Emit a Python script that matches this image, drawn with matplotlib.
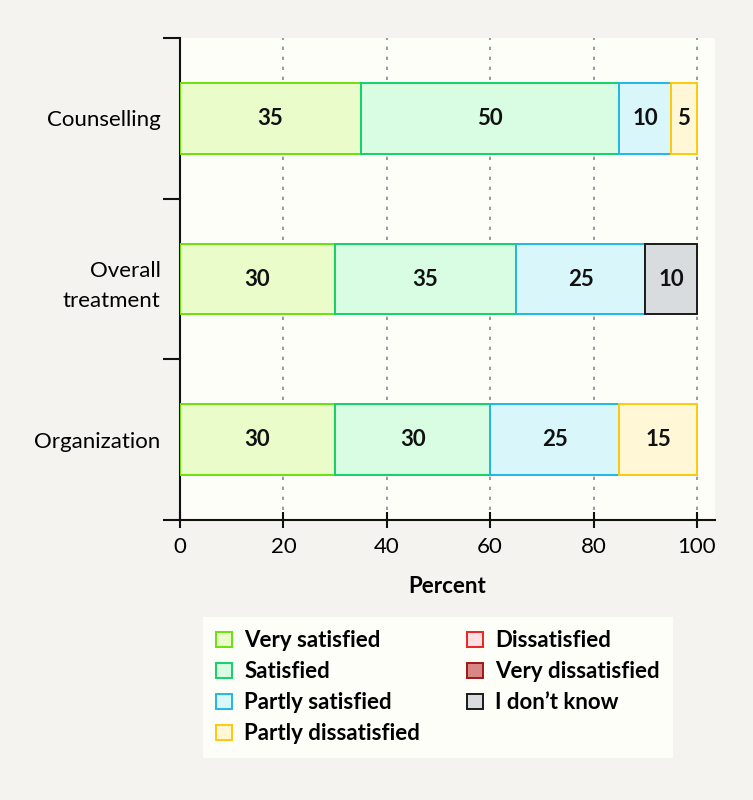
import matplotlib
matplotlib.use("Agg")
import matplotlib.pyplot as plt
from matplotlib.patches import Patch
import numpy as np

plt.rcParams['font.family'] = ['Lato', 'DejaVu Sans']

categories = ["Organization", "Overall\ntreatment", "Counselling"]
series_names = ["Very satisfied", "Satisfied", "Partly satisfied", "Partly dissatisfied",
                "Dissatisfied", "Very dissatisfied", "I don\u2019t know"]
very_satisfied = [30, 30, 35]
satisfied = [30, 35, 50]
partly_satisfied = [25, 25, 10]
partly_dissatisfied = [15, 0, 5]
dissatisfied = [0, 0, 0]
very_dissatisfied = [0, 0, 0]
dont_know = [0, 10, 0]
x_ticks = [0, 20, 40, 60, 80, 100]

series = [very_satisfied, satisfied, partly_satisfied, partly_dissatisfied,
          dissatisfied, very_dissatisfied, dont_know]
faces = ["#ebfccb", "#d9fde3", "#d9f6fa", "#fff7d6", "#fde0e0", "#d98686", "#d9dcde"]
edges = ["#6ae20a", "#10d26a", "#1fb8e6", "#ffc80a", "#ee2222", "#a01818", "#1a1a1a"]

FS = 16

fig = plt.figure(figsize=(7.53, 8.0), dpi=100)
fig.patch.set_facecolor("#f4f3f0")
ax = fig.add_axes([180/753, 1-520/800, 535/753, 482/800])
ax.set_facecolor("#fefef8")

y = np.arange(len(categories))
left = np.zeros(len(categories))
for vals, fc, ec in zip(series, faces, edges):
    vals = np.array(vals, dtype=float)
    mask = vals > 0
    bars = ax.barh(y[mask], vals[mask], left=left[mask], height=0.44,
                   color=fc, edgecolor=ec, linewidth=1.4, zorder=3)
    for b, v in zip(bars, vals[mask]):
        ax.text(b.get_x() + b.get_width()/2, b.get_y() + b.get_height()/2,
                f"{int(v)}", ha="center", va="center", fontsize=FS,
                fontweight="bold", color="#111111", zorder=4)
    left += vals

ax.set_xlim(0, 103.5)
ax.set_ylim(-0.5, 2.5)
ax.set_xticks(x_ticks)
ax.set_xticklabels([str(t) for t in x_ticks], fontsize=FS)
ax.set_yticks(y)
ax.set_yticklabels(categories, fontsize=FS, multialignment="right", linespacing=1.65)
ax.set_yticks([-0.5, 0.5, 1.5, 2.5], minor=True)
ax.tick_params(axis="y", which="major", length=0, pad=14)
ax.tick_params(axis="y", which="minor", length=12, width=1.5, direction="out", color="#111111")
ax.tick_params(axis="x", length=12, width=1.5, direction="inout", color="#111111", pad=6)
ax.xaxis.grid(True, linestyle=(0, (2, 4)), color="#7f8c96", linewidth=1.2, zorder=1)
for s in ["top", "right"]:
    ax.spines[s].set_visible(False)
for s in ["left", "bottom"]:
    ax.spines[s].set_linewidth(1.5)
    ax.spines[s].set_color("#111111")
ax.set_xlabel("Percent", fontsize=FS, fontweight="bold", labelpad=14)

handles = [Patch(facecolor=fc, edgecolor=ec, linewidth=1.4) for fc, ec in zip(faces, edges)]
leg = fig.legend(handles, series_names, ncol=2, loc="upper left",
                 bbox_to_anchor=(203/753, 1-617/800, 470/753, 0.0), mode="expand",
                 frameon=True, fancybox=False, facecolor="#fefef8", edgecolor="none",
                 framealpha=1, prop={"size": FS, "weight": "bold"},
                 handlelength=0.7, handleheight=0.7, handletextpad=0.55,
                 labelspacing=0.45, columnspacing=1.5, borderaxespad=0,
                 borderpad=0.6)
fig.savefig("out.png", dpi=100, facecolor=fig.get_facecolor())
